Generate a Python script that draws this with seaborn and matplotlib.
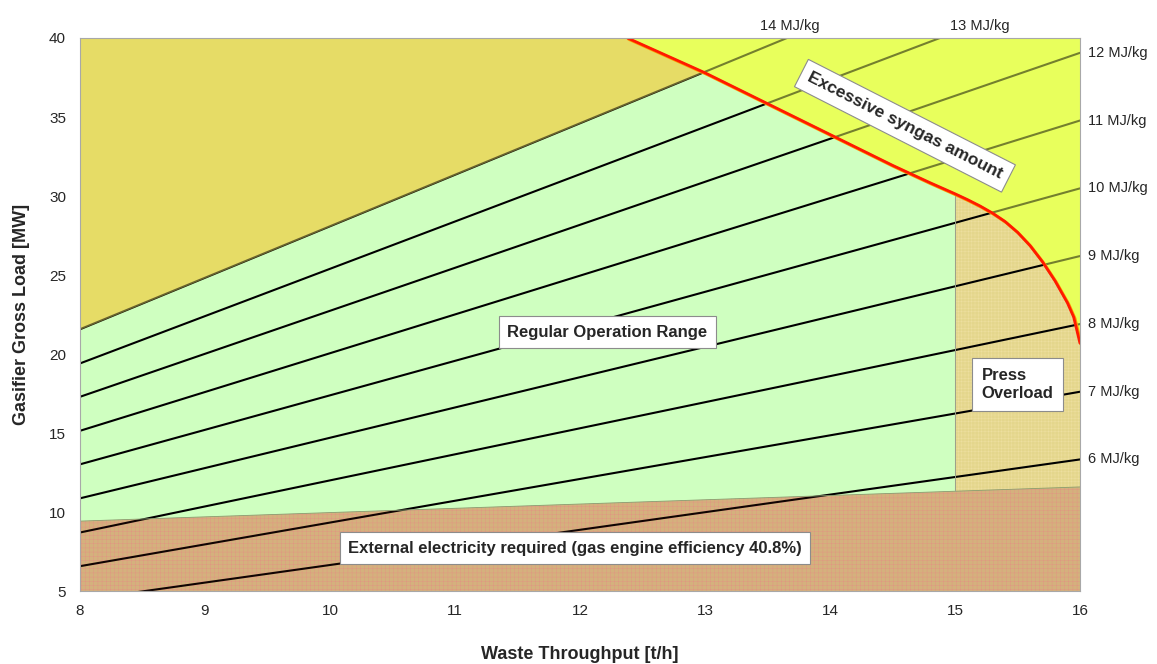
import numpy as np
import pandas as pd
import matplotlib
matplotlib.use("Agg")
import matplotlib.pyplot as plt
import matplotlib.transforms as mtransforms
import seaborn as sns

# ====== data ======
heating_values = [6, 7, 8, 9, 10, 11, 12, 13, 14]          # MJ/kg
load_at_8 = [4.45, 6.60, 8.73, 10.89, 13.04, 15.16, 17.31, 19.42, 21.58]
load_at_16 = [13.35, 17.63, 21.91, 26.21, 30.49, 34.78, 39.06, 43.35, 47.63]
throughput_ends = [8, 16]

# syngas limit (red curve)
syngas_x = [12.38, 13.0, 13.5, 14.0, 14.5, 14.8, 15.0, 15.1, 15.2, 15.3, 15.4,
            15.5, 15.6, 15.7, 15.8, 15.9, 15.95, 16.0]
syngas_y = [40.0, 37.8, 35.85, 33.9, 31.95, 30.85, 30.15, 29.78, 29.38, 28.93, 28.4,
            27.72, 26.88, 25.85, 24.65, 23.25, 22.35, 20.7]

# external electricity limit (bottom region)
elec_x = [8, 16]
elec_y = [9.45, 11.61]

press_limit = 15.0   # t/h

# ====== style ======
sns.set_style("white")
plt.rcParams['font.family'] = ['Liberation Sans', 'DejaVu Sans']
plt.rcParams['hatch.linewidth'] = 0.35

c_yellow = "#E8FF5C"
c_olive = "#E6DC66"
c_green = "#CFFFC0"
c_brown = "#D9C088"
c_press = "#E4D68C"

fig = plt.figure(figsize=(11.57, 6.64), dpi=100)
ax = fig.add_axes([0.0691, 0.1092, 0.8643, 0.8336])
ax.set_xlim(8, 16)
ax.set_ylim(5, 40)
ax.set_facecolor(c_yellow)

xg = np.linspace(8, 16, 1601)
cap = np.where(xg < syngas_x[0], 40.0, np.interp(xg, syngas_x, syngas_y))
top_line = np.interp(xg, throughput_ends, [load_at_8[-1], load_at_16[-1]])
elec = np.interp(xg, elec_x, elec_y)
left = xg <= press_limit
right = xg >= press_limit

# ====== base regions ======
ax.fill_between(xg, top_line, cap, where=top_line < cap, color=c_olive, lw=0, zorder=1)
ax.fill_between(xg[left], elec[left], np.minimum(top_line, cap)[left], color=c_green, lw=0, zorder=1)
ax.fill_between(xg[right], elec[right], cap[right], facecolor=c_press, edgecolor="#EEDFA0",
                hatch="+" * 5, lw=0, zorder=1)
ax.fill_between(xg, 5, elec, facecolor=c_brown, edgecolor="#E6A48E", hatch="+" * 4, lw=0, zorder=1)

# ====== heating value lines ======
lines = pd.DataFrame({
    "throughput": throughput_ends * len(heating_values),
    "load": [v for pair in zip(load_at_8, load_at_16) for v in pair],
    "hv": [h for h in heating_values for _ in throughput_ends],
})
sns.lineplot(data=lines, x="throughput", y="load", units="hv", estimator=None,
             color="black", lw=1.5, ax=ax, zorder=2)

# ====== overlays tint the lines in each area ======
ax.fill_between(xg, cap, 41, color=c_yellow, alpha=0.5, lw=0, zorder=3)
ax.fill_between(xg, top_line, cap, where=top_line < cap, color=c_olive, alpha=0.45, lw=0, zorder=3)
ax.fill_between(xg, 5, elec, color="#B03020", alpha=0.1, lw=0, zorder=3)
ax.plot(elec_x, elec_y, color="#8A9A70", lw=0.6, zorder=3)
ax.vlines(press_limit, np.interp(press_limit, elec_x, elec_y),
          np.interp(press_limit, syngas_x, syngas_y), color="#9AA08A", lw=0.7, zorder=3)

# ====== syngas limit curve ======
shift = mtransforms.offset_copy(ax.transData, fig=fig, x=1.2, y=-1.2, units="dots")
ax.plot(syngas_x, syngas_y, color="#FF9900", lw=2.2, transform=shift, zorder=4)
sns.lineplot(x=syngas_x, y=syngas_y, color="#FF1A00", lw=2.0, ax=ax, zorder=5, sort=False)

# ====== labels ======
box = dict(boxstyle="square,pad=0.5", fc="white", ec="#8C8C8C", lw=0.8)
ax.text(12.22, 21.4, "Regular Operation Range", ha="center", va="center",
        fontsize=12, fontweight="bold", bbox=box, zorder=6)
ax.text(11.96, 7.74, "External electricity required (gas engine efficiency 40.8%)",
        ha="center", va="center", fontsize=12, fontweight="bold", bbox=box, zorder=6)
ax.text(15.5, 18.1, "Press\nOverload", ha="center", va="center", multialignment="left",
        fontsize=12, fontweight="bold", bbox=dict(boxstyle="square,pad=0.6", fc="white",
                                                  ec="#8C8C8C", lw=0.8), zorder=6)
ax.text(14.6, 34.45, "Excessive syngas amount", ha="center", va="center", rotation=-27,
        rotation_mode="anchor", fontsize=12.5, fontweight="bold",
        bbox=dict(boxstyle="square,pad=0.45", fc="white", ec="#8C8C8C", lw=0.8), zorder=6)

for hv, y16 in zip(heating_values, load_at_16):
    if y16 <= 40:
        ax.annotate(f"{hv} MJ/kg", (16, y16), xytext=(6, 0), textcoords="offset points",
                    ha="left", va="center", fontsize=10.5, annotation_clip=False)
top_label_hv = [14, 13]
top_label_x = [13.68, 15.2]
for hv, xl in zip(top_label_hv, top_label_x):
    ax.annotate(f"{hv} MJ/kg", (xl, 40), xytext=(0, 3.5), textcoords="offset points",
                ha="center", va="bottom", fontsize=10.5, annotation_clip=False)

ax.set_xticks(range(8, 17))
ax.set_yticks(range(5, 41, 5))
ax.tick_params(axis="both", length=0, labelsize=11)
ax.tick_params(axis="x", pad=9)
ax.tick_params(axis="y", pad=10)
ax.set_xlabel("Waste Throughput [t/h]", fontsize=13, fontweight="bold", labelpad=20)
ax.set_ylabel("Gasifier Gross Load [MW]", fontsize=13, fontweight="bold", labelpad=14)
for s in ax.spines.values():
    s.set_color("#A8A8A8")
    s.set_linewidth(0.8)
    s.set_zorder(7)

fig.savefig("out.png", dpi=100)
